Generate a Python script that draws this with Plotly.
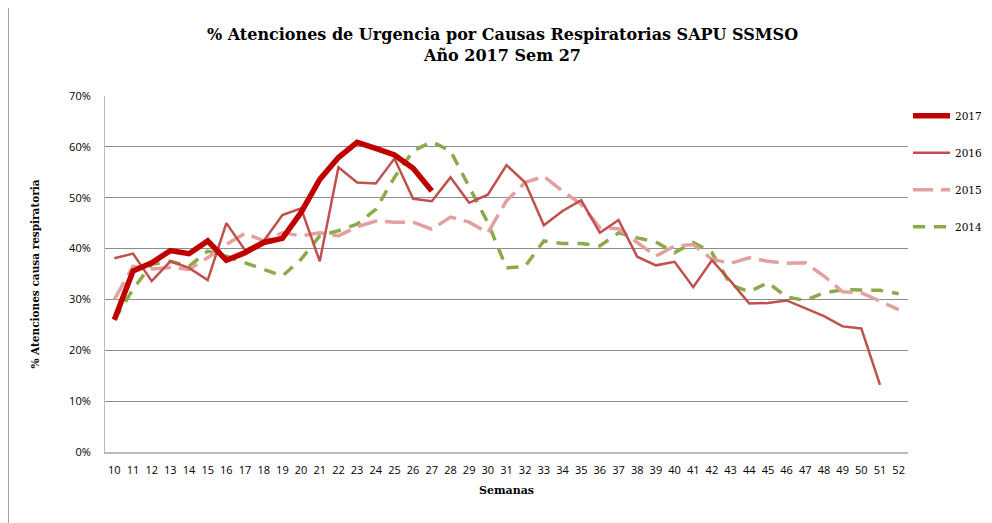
import plotly.graph_objects as go

weeks = list(range(10, 53))

s2017 = [26.0, 35.6, 37.2, 39.6, 39.0, 41.5, 37.7, 39.2, 41.2, 42.0, 47.1, 53.6,
         57.9, 60.9, 59.7, 58.4, 55.8, 51.3]
s2016 = [38.1, 39.0, 33.6, 37.5, 36.2, 33.8, 45.0, 39.7, 41.5, 46.6, 47.9, 37.5,
         56.0, 53.0, 52.8, 57.7, 49.8, 49.3, 54.0, 49.0, 50.6, 56.4, 53.0, 44.6,
         47.4, 49.5, 43.1, 45.6, 38.4, 36.7, 37.4, 32.4, 37.7, 33.6, 29.2, 29.3,
         29.8, 28.3, 26.7, 24.7, 24.3, 13.2]
s2015 = [30.0, 36.5, 36.0, 36.3, 35.9, 38.2, 40.8, 43.0, 41.5, 43.1, 42.5, 43.1,
         42.5, 44.3, 45.4, 45.2, 45.2, 43.8, 46.2, 45.2, 43.1, 49.4, 53.0, 54.2,
         51.3, 48.7, 44.1, 43.9, 41.2, 38.5, 40.5, 40.8, 37.9, 37.1, 38.2, 37.5,
         37.1, 37.2, 34.6, 31.5, 31.3, 29.6, 28.0]
s2014 = [26.0, 32.0, 36.9, 37.5, 36.5, 39.5, 38.5, 37.2, 35.9, 34.6, 37.9, 42.5,
         43.5, 44.8, 47.7, 54.0, 59.2, 61.0, 59.2, 52.3, 45.1, 36.2, 36.5, 41.5,
         41.0, 41.0, 40.5, 43.1, 42.1, 41.3, 39.2, 41.2, 39.2, 32.9, 31.5, 33.3,
         30.5, 29.8, 31.3, 31.9, 31.8, 31.8, 31.1]

y_ticks = [0, 10, 20, 30, 40, 50, 60, 70]
y_ticktext = [f"{v}%" for v in y_ticks]

fig = go.Figure()
fig.add_trace(go.Scatter(x=weeks[:len(s2014)], y=s2014, name="2014", mode="lines",
                         legendgroup="g2014", legendrank=4,
                         line=dict(color="#8DAA4A", width=3.5, dash="12px,9px")))
fig.add_trace(go.Scatter(x=weeks[:len(s2015)], y=s2015, name="2015", mode="lines",
                         legendgroup="g2015", legendrank=3,
                         line=dict(color="#E3A09F", width=3.5, dash="20px,8px")))
fig.add_trace(go.Scatter(x=weeks[:len(s2016)], y=s2016, name="2016", mode="lines",
                         legendgroup="g2016", legendrank=2,
                         line=dict(color="#C0504D", width=2.5)))
fig.add_trace(go.Scatter(x=weeks[:len(s2017)], y=s2017, name="2017", mode="lines",
                         legendgroup="g2017", legendrank=1,
                         line=dict(color="#C00000", width=5.5)))

serif = "DejaVu Serif"
sans = "Open Sans"

fig.update_layout(
    width=1000, height=515,
    margin=dict(l=97, r=100, t=88, b=71),
    paper_bgcolor="white", plot_bgcolor="white",
    title=dict(text="<b>% Atenciones de Urgencia por Causas Respiratorias SAPU SSMSO<br>Año 2017 Sem 27</b>",
               x=(97 + 803 / 2 - 4) / 1000, xanchor="center", y=0.937, yanchor="middle",
               font=dict(family=serif, size=16, color="black")),
    legend=dict(x=1.0, xanchor="left", y=0.985, yanchor="top",
                traceorder="grouped", tracegroupgap=18, itemwidth=37,
                font=dict(family=serif, size=10.5, color="black"),
                bgcolor="rgba(0,0,0,0)"),
    xaxis=dict(range=[9.5, 52.5], tickmode="array", tickvals=weeks,
               ticktext=[str(w) for w in weeks], showgrid=False,
               showline=True, linecolor="#BBBBBB", linewidth=2, ticks="",
               ticklabelstandoff=7,
               tickfont=dict(family=sans, size=11, color="black"),
               title=dict(text="<b>Semanas</b>", standoff=10,
                          font=dict(family=serif, size=11, color="black")),
               zeroline=False, fixedrange=True),
    yaxis=dict(range=[0, 70], tickmode="array", tickvals=y_ticks,
               ticktext=y_ticktext, showgrid=True, gridcolor="#8C8C8C", gridwidth=1,
               showline=True, linecolor="#BBBBBB", linewidth=1, ticks="",
               ticklabelstandoff=11,
               tickfont=dict(family=sans, size=11, color="black"),
               title=dict(text="<b>% Atenciones causa respiratoria</b>", standoff=27,
                          font=dict(family=serif, size=10.5, color="black")),
               zeroline=False, fixedrange=True),
    showlegend=True,
)

fig.add_shape(type="line", xref="paper", yref="paper",
              x0=-96.5 / 803, x1=-96.5 / 803, y0=-71 / 356, y1=1.25,
              line=dict(color="#A0A0A0", width=1))

fig.write_html("out.html")
